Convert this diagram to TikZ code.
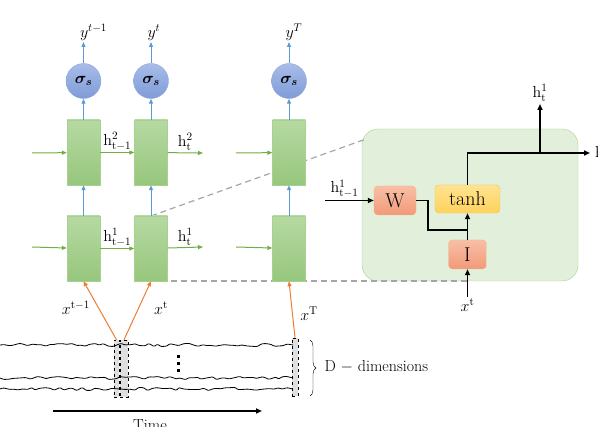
\documentclass[tikz,border=0pt]{standalone}
\usepackage{fix-cm}
\usepackage{bm}
\usetikzlibrary{arrows.meta,decorations.pathmorphing,decorations.pathreplacing}
\definecolor{celltop}{HTML}{B6D9A3}
\definecolor{cellbot}{HTML}{97C77D}
\definecolor{cellline}{HTML}{A9D18E}
\definecolor{sigtop}{HTML}{A8BCE8}
\definecolor{sigbot}{HTML}{7F9BD8}
\definecolor{sigline}{HTML}{8EA9DB}
\definecolor{arrgreen}{HTML}{70AD47}
\definecolor{arrblue}{HTML}{5B9BD5}
\definecolor{arrorange}{HTML}{ED7D31}
\definecolor{bigfill}{HTML}{E2EFDA}
\definecolor{redtop}{HTML}{F8BFA6}
\definecolor{redbot}{HTML}{F19A78}
\definecolor{redline}{HTML}{F4B183}
\definecolor{yeltop}{HTML}{FFE391}
\definecolor{yelbot}{HTML}{FFD25A}
\definecolor{yelline}{HTML}{F2C544}
\definecolor{dashgray}{HTML}{A6A6A6}
\begin{document}
\begin{tikzpicture}[x=1pt,y=-1pt,font=\fontsize{16}{19}\selectfont,
    cell/.style={draw=cellline,top color=celltop,bottom color=cellbot,minimum width=33pt,minimum height=65pt,inner sep=0pt},
    sig/.style={circle,draw=sigline,top color=sigtop,bottom color=sigbot,minimum size=35pt,inner sep=0pt},
    gate/.style={draw=redline,top color=redtop,bottom color=redbot,rounded corners=4pt,inner sep=0pt,font=\fontsize{20}{22}\selectfont},
    win/.style={draw,dashed,fill=gray!25,inner sep=0pt,minimum height=57pt},
    garr/.style={draw=arrgreen,line width=1pt,-{Triangle[length=5pt,width=4pt]}},
    barr/.style={draw=arrblue,line width=1pt,-{Triangle[length=5pt,width=4pt]}},
    oarr/.style={draw=arrorange,line width=1pt,-{Triangle[length=5pt,width=4pt]}},
    karr/.style={line width=1.5pt,-{Triangle[length=6pt,width=5pt]}},
    zoomline/.style={dashgray,line width=1.2pt,dash pattern=on 6pt off 4pt},
    lbl/.style={inner sep=2pt}]
\useasboundingbox (0,0) rectangle (598,427);
\node[draw=cellline,fill=bigfill,rounded corners=16pt,minimum width=216pt,minimum height=152pt] (big) at (470,205) {};
\draw[zoomline] (151,216) -- (366,139);
\draw[zoomline] (151,281) -- (467,281);
\foreach \x/\n in {83.5/1,151/2,289/T}{
  \node[cell] (h1\n) at (\x,248.5) {};
  \node[cell] (h2\n) at (\x,152.5) {};
  \node[sig] (s\n) at (\x,81) {$\bm{\sigma_s}$};
  \draw[barr] (h1\n) -- (h2\n);
  \draw[barr] (h2\n) -- (s\n);
}
\draw[barr] (s1) -- (83.5,42) node[inner sep=1pt,anchor=south west,xshift=-5pt] (y1) {$y^{t-1}$};
\draw[barr] (s2) -- (151,42) node[inner sep=1pt,anchor=south west,xshift=-5pt] (y2) {$y^{t}$};
\draw[barr] (sT) -- (289,42) node[inner sep=1pt,anchor=south west,xshift=-5pt] (yT) {$y^{T}$};
\draw[garr] (32,153) -- (h21);
\draw[garr] (h21) -- (h22) node[lbl,midway,above] {$\mathrm{h}^{2}_{\mathrm{t-1}}$};
\draw[garr] (h22) -- (203,153) node[lbl,midway,above] {$\mathrm{h}^{2}_{\mathrm{t}}$};
\draw[garr] (236,153) -- (h2T);
\draw[garr] (32,247) -- (h11);
\draw[garr] (h11) -- (h12) node[lbl,midway,above] {$\mathrm{h}^{1}_{\mathrm{t-1}}$};
\draw[garr] (h12) -- (203,247) node[lbl,midway,above] {$\mathrm{h}^{1}_{\mathrm{t}}$};
\draw[garr] (236,247) -- (h1T);
% windows and signals
\node[win,minimum width=5.5pt] (w1) at (116.5,368.5) {};
\node[win,minimum width=8pt] (w2) at (124,368.5) {};
\node[win,minimum width=6pt,minimum height=58pt] (wT) at (295,367) {};
\pgfmathsetseed{7}
\foreach \y in {345,378,389}
  \draw[line width=0.8pt,decorate,decoration={random steps,segment length=4.5pt,amplitude=1.6pt},rounded corners=1pt] (0,\y) -- (293,\y);
\foreach \y in {357,364,371}
  \fill (176.5,\y-1.5) rectangle ++(3,3);
\draw[oarr] (w1.north) -- (h11.south);
\draw[oarr] (w2.north) -- (h12.south);
\draw[oarr] (wT.north) -- (h1T.south);
\node (x1) at (76,308) {$x^{\mathrm{t-1}}$};
\node (x2) at (161,308) {$x^{\mathrm{t}}$};
\node (xT) at (309,314) {$x^{\mathrm{T}}$};
\draw[decorate,decoration={brace,amplitude=6pt}] (310,340) -- (310,396);
\node[anchor=west] (dim) at (321,367) {D $-$ dimensions};
\draw[karr] (53,411) -- (262,411);
\node[anchor=north,inner sep=0pt] (time) at (150,419) {Time};
% cell detail
\node[gate,minimum width=42pt,minimum height=29pt] (W) at (395,200.5) {W};
\node[gate,draw=yelline,top color=yeltop,bottom color=yelbot,minimum width=65pt,minimum height=28pt] (tanh) at (467.5,199) {tanh};
\node[gate,minimum width=38pt,minimum height=29pt] (I) at (467.5,254.5) {I};
\coordinate (hin) at (325,200.5);
\coordinate (xin) at (467.5,297);
\coordinate (hout) at (590,153);
\coordinate (hup) at (540,104);
\draw[karr] (hin) -- (W) node[lbl,pos=0.4,above] {$\mathrm{h}^{1}_{\mathrm{t-1}}$};
\draw[line width=1.5pt] (W.east) -- (428,200.5) -- (428,230) -- (467.5,230);
\draw[karr] (I) -- (tanh);
\draw[karr] (xin) -- (I) node[inner sep=1pt,at start,below] (xl) {$x^{\mathrm{t}}$};
\draw[karr] (tanh.north) |- (hout);
\draw[karr] (540,153) -- (hup) node[lbl,above] (ht) {$\mathrm{h}^{1}_{\mathrm{t}}$};
\node[anchor=west,inner sep=0pt] (hr) at (595,153) {$\mathrm{h}^{1}_{\mathrm{t}}$};
\end{tikzpicture}
\end{document}
